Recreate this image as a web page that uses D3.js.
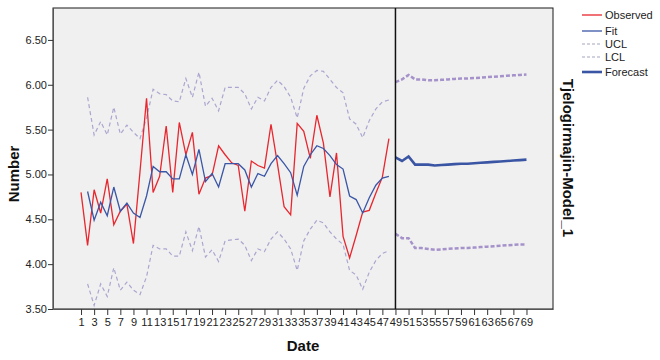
<!DOCTYPE html>
<html>
<head>
<meta charset="utf-8">
<script src="https://cdn.jsdelivr.net/npm/d3@7"></script>
<style>
body{margin:0;background:#fff;}
svg text{font-family:"Liberation Sans",Arial,sans-serif;}
</style>
</head>
<body>
<div id="chart"></div>
<script>
// series values
var obsStart = 1;
var observed = [4.80,4.21,4.83,4.57,4.95,4.44,4.59,4.67,4.23,5.03,5.85,4.80,4.98,5.54,4.80,5.58,5.22,5.47,4.78,4.96,
  4.99,5.32,5.22,5.13,5.10,4.59,5.15,5.10,5.07,5.56,5.11,4.64,4.55,5.57,5.48,5.18,5.66,5.35,4.75,5.24,
  4.31,4.07,4.32,4.58,4.60,4.79,4.97,5.40];
var fitStart = 2;
var fit = [4.81,4.49,4.69,4.54,4.86,4.59,4.68,4.57,4.52,4.76,5.09,5.03,5.03,4.95,4.95,5.22,5.00,5.28,4.92,
  5.01,4.86,5.12,5.12,5.12,5.05,4.86,5.01,4.98,5.12,5.21,5.12,5.02,4.77,5.09,5.22,5.32,5.29,5.21,5.11,
  5.06,4.76,4.72,4.57,4.74,4.88,4.96,4.98];
var ucl = [5.86,5.44,5.59,5.44,5.75,5.45,5.55,5.47,5.40,5.63,5.95,5.90,5.89,5.82,5.81,6.07,5.86,6.14,5.76,
  5.85,5.71,5.97,5.97,5.97,5.90,5.73,5.86,5.82,5.97,6.05,5.98,5.86,5.63,5.96,6.10,6.16,6.15,6.06,5.97,
  5.91,5.62,5.56,5.41,5.60,5.73,5.81,5.83];
var lcl = [3.78,3.54,3.78,3.64,3.96,3.71,3.80,3.71,3.66,3.86,4.21,4.17,4.17,4.09,4.09,4.36,4.15,4.42,4.08,
  4.16,4.03,4.26,4.27,4.28,4.21,4.04,4.17,4.14,4.28,4.36,4.28,4.17,3.93,4.26,4.39,4.49,4.46,4.36,4.28,
  4.22,3.93,3.88,3.72,3.91,4.04,4.12,4.15];
var fcStart = 49;
var forecast = [5.19,5.15,5.20,5.11,5.11,5.11,5.10,5.105,5.11,5.115,5.12,5.12,5.125,5.13,5.135,5.14,5.145,
  5.15,5.155,5.16,5.165];
var fcUcl = [6.03,6.06,6.11,6.06,6.06,6.05,6.05,6.055,6.06,6.065,6.07,6.07,6.075,6.08,6.085,6.09,6.095,
  6.10,6.105,6.11,6.115];
var fcLcl = [4.34,4.29,4.29,4.18,4.18,4.17,4.16,4.165,4.17,4.175,4.18,4.18,4.185,4.19,4.195,4.20,4.205,
  4.21,4.215,4.22,4.22];
var xTicks = d3.range(1,70,2);
var yTicks = [3.5,4.0,4.5,5.0,5.5,6.0,6.5];
var legendNames = ["Observed","Fit","UCL","LCL","Forecast"];

var W = 660, H = 360;
var pLeft = 53, pRight = 553, pTop = 8, pBottom = 309;

var svg = d3.select("#chart").append("svg").attr("width",W).attr("height",H);

var x = d3.scaleLinear().domain([-3.28,73.05]).range([pLeft,pRight]);
var y = d3.scaleLinear().domain([3.5,6.856]).range([pBottom,pTop]);

svg.append("rect").attr("x",pLeft).attr("y",pTop).attr("width",pRight-pLeft).attr("height",pBottom-pTop)
  .attr("fill","#f0f0f0").attr("stroke","#1a1a1a").attr("stroke-width",1);

// axes
var yAxis = svg.append("g").attr("transform","translate("+pLeft+",0)")
  .call(d3.axisLeft(y).tickValues(yTicks).tickFormat(d3.format(".2f")).tickSize(5).tickSizeOuter(0));
var xAxis = svg.append("g").attr("transform","translate(0,"+pBottom+")")
  .call(d3.axisBottom(x).tickValues(xTicks).tickFormat(d3.format("d")).tickSize(6).tickSizeOuter(0));
[yAxis,xAxis].forEach(function(a){
  a.select(".domain").attr("stroke","#555");
  a.selectAll(".tick line").attr("stroke","#333");
  a.selectAll(".tick text").attr("font-size",11).attr("fill","#222")
    .attr("font-family","'Liberation Sans',Arial,sans-serif");
});
yAxis.selectAll(".tick text").attr("x",-6);
xAxis.selectAll(".tick text").attr("y",9);

function series(vals,start){
  return vals.map(function(v,i){return {t:start+i,v:v};});
}
var line = d3.line().x(function(d){return x(d.t);}).y(function(d){return y(d.v);});

var g = svg.append("g");
g.append("path").datum(series(ucl,fitStart)).attr("d",line).attr("fill","none")
  .attr("stroke","#aaa6cf").attr("stroke-width",1.2).attr("stroke-dasharray","4,3");
g.append("path").datum(series(lcl,fitStart)).attr("d",line).attr("fill","none")
  .attr("stroke","#aaa6cf").attr("stroke-width",1.2).attr("stroke-dasharray","4,3");
g.append("path").datum(series(observed,obsStart)).attr("d",line).attr("fill","none")
  .attr("stroke","#e8262e").attr("stroke-width",1.3);
g.append("path").datum(series(fit,fitStart)).attr("d",line).attr("fill","none")
  .attr("stroke","#3b56a6").attr("stroke-width",1.3);
g.append("path").datum(series(fcUcl,fcStart)).attr("d",line).attr("fill","none")
  .attr("stroke","#a592ca").attr("stroke-width",2.5).attr("stroke-dasharray","4,2");
g.append("path").datum(series(fcLcl,fcStart)).attr("d",line).attr("fill","none")
  .attr("stroke","#a592ca").attr("stroke-width",2.5).attr("stroke-dasharray","4,2");
g.append("path").datum(series(forecast,fcStart)).attr("d",line).attr("fill","none")
  .attr("stroke","#3a55a3").attr("stroke-width",2.6);

// forecast origin line
svg.append("line").attr("x1",x(fcStart)).attr("x2",x(fcStart)).attr("y1",pTop).attr("y2",pBottom)
  .attr("stroke","#111").attr("stroke-width",1.5);

// titles
svg.append("text").attr("x",303).attr("y",351).attr("text-anchor","middle")
  .attr("font-size",15).attr("font-weight","bold").attr("fill","#111").text("Date");
svg.append("text").attr("transform","translate(19,174) rotate(-90)").attr("text-anchor","middle")
  .attr("font-size",15).attr("font-weight","bold").attr("fill","#111").text("Number");
svg.append("text").attr("transform","translate(563,158) rotate(90)").attr("text-anchor","middle")
  .attr("font-size",15).attr("font-weight","bold").attr("fill","#111").text("Tjelogirmajin-Model_1");

// legend
var legStyles = [
  {c:"#e8262e",w:1.3,d:null},
  {c:"#3b56a6",w:1.3,d:null},
  {c:"#c4c4d4",w:1.3,d:"3,2"},
  {c:"#c4c4d4",w:1.3,d:"3,2"},
  {c:"#3a55a3",w:2.6,d:null}
];
var legY = [15,31,44,57,72];
var leg = svg.append("g").selectAll("g").data(legendNames).enter().append("g")
  .attr("transform",function(d,i){return "translate(582,"+legY[i]+")";});
leg.append("line").attr("x1",0).attr("x2",20).attr("y1",0).attr("y2",0)
  .attr("stroke",function(d,i){return legStyles[i].c;})
  .attr("stroke-width",function(d,i){return legStyles[i].w;})
  .attr("stroke-dasharray",function(d,i){return legStyles[i].d;});
leg.append("text").attr("x",23).attr("y",4).attr("font-size",11).attr("fill","#222").text(function(d){return d;});
</script>
</body>
</html>
